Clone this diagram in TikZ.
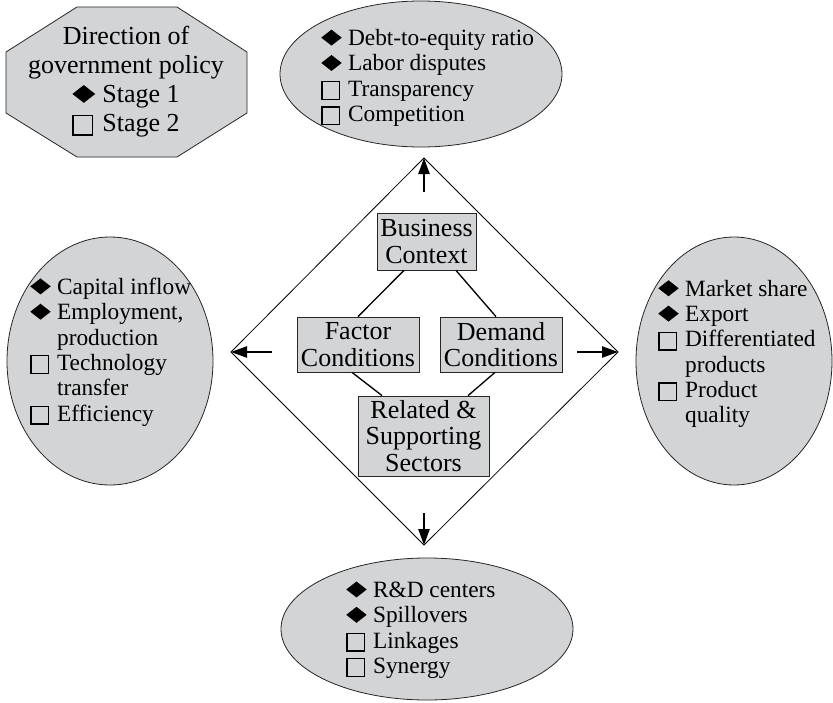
\documentclass[tikz,border=0pt]{standalone}
\usepackage{fontspec}
\setmainfont{Liberation Serif}
\usetikzlibrary{shapes.geometric,arrows.meta}
\definecolor{shade}{RGB}{211,212,214}
\newcommand\dia{\makebox[1.15em][l]{\raisebox{0.0em}{\scalebox{1}[0.78]{\rotatebox{45}{\rule{0.62em}{0.62em}}}}}}
\newcommand\sqr{\makebox[1.15em][l]{\raisebox{-0.1em}{\setlength\fboxsep{0pt}\setlength\fboxrule{0.06em}\fbox{\rule{0pt}{0.7em}\hspace{0.68em}}}}}
\newcommand\ind{\hspace*{1.15em}}
\begin{document}
\begin{tikzpicture}[x=0.75pt,y=-0.75pt,
  oval/.style={ellipse, draw=black!85, fill=shade, line width=0.6pt, inner sep=0pt},
  bigtext/.style={font=\fontsize{19.5}{21.75}\selectfont, inner sep=0pt},
  boxtext/.style={font=\fontsize{19.5}{20}\selectfont},
  smalltext/.style={font=\fontsize{17.5}{19}\selectfont, inner sep=0pt, align=left, anchor=west},
  factorbox/.style={draw=black!85, fill=shade, line width=0.6pt, inner sep=1pt, align=center, boxtext},
  thin/.style={line width=0.6pt},
  arr/.style={line width=1pt, -{Triangle[length=12pt,width=8.5pt]}}
]
\useasboundingbox (0,0) rectangle (833,703);

% octagon
\draw[fill=shade, draw=black!85, line width=0.6pt] (77,7) -- (177,7) -- (247,52) -- (247,113) -- (177,157) -- (77,157) -- (6,113) -- (6,52) -- cycle;
\node[bigtext, align=center] (gov) at (126,82) {Direction of\\government policy\\\dia Stage 1\\\sqr Stage 2};

% ellipses
\node[oval, minimum width=211.5pt, minimum height=109.5pt] (topE) at (421,74) {};
\node[smalltext] (topT) at (321,78) {\dia Debt-to-equity ratio\\\dia Labor disputes\\\sqr Transparency\\\sqr Competition};

\node[oval, minimum width=154.5pt, minimum height=186pt] (leftE) at (110,361) {};
\node[smalltext] (leftT) at (30,352) {\dia Capital inflow\\\dia Employment,\\\ind production\\\sqr Technology\\\ind transfer\\\sqr Efficiency};

\node[oval, minimum width=147pt, minimum height=186pt] (rightE) at (734,361) {};
\node[smalltext] (rightT) at (658,354) {\dia Market share\\\dia Export\\\sqr Differentiated\\\ind products\\\sqr Product\\\ind quality};

\node[oval, minimum width=219pt, minimum height=106.5pt] (botE) at (427,629) {};
\node[smalltext] (botT) at (346,630) {\dia R\&D centers\\\dia Spillovers\\\sqr Linkages\\\sqr Synergy};

% diamond
\coordinate (dt) at (424,158);
\coordinate (dl) at (231,352);
\coordinate (dr) at (618,352);
\coordinate (db) at (424,545);
\draw[thin] (dt) -- (dr) -- (db) -- (dl) -- cycle;

% boxes
\node[factorbox, minimum width=74.25pt, minimum height=42.75pt] (bc) at (426.5,241.5) {Business\\Context};
\node[factorbox, minimum width=91.5pt, minimum height=41.25pt] (fc) at (358,344.5) {Factor\\Conditions};
\node[factorbox, minimum width=91.5pt, minimum height=41.25pt] (dc) at (501,344.5) {Demand\\Conditions};
\node[factorbox, minimum width=98.25pt, minimum height=60pt] (rs) at (423.5,436) {Related \&\\Supporting\\Sectors};

\draw[line width=1pt] ([xshift=-16.9pt]bc.south) -- (fc.north);
\draw[line width=1pt] ([xshift=22.1pt]bc.south) -- ([xshift=-3.75pt]dc.north);
\draw[line width=1pt] ([xshift=-4.5pt]fc.south) -- ([xshift=-31.1pt]rs.north);
\draw[line width=1pt] ([xshift=-4.5pt]dc.south) -- ([xshift=33.4pt]rs.north);

% arrows
\coordinate (au) at (424,192);
\coordinate (al) at (272,352);
\coordinate (ar) at (577,352);
\coordinate (ad) at (424,513);
\draw[arr] (au) -- (dt);
\draw[arr] (al) -- (dl);
\draw[arr] (ar) -- (dr);
\draw[arr] (ad) -- (db);
\end{tikzpicture}
\end{document}
